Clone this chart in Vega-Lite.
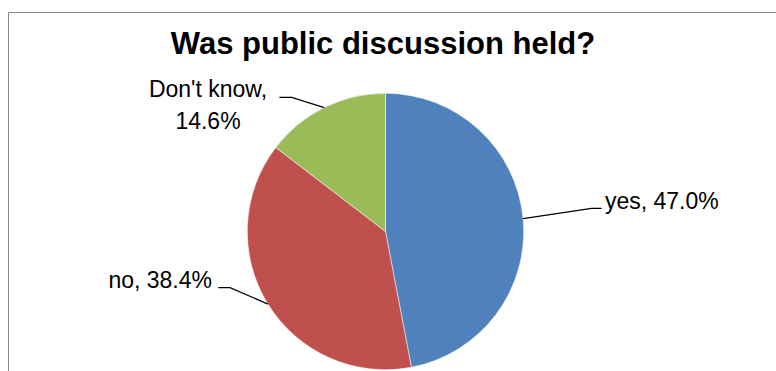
{
  "$schema": "https://vega.github.io/schema/vega-lite/v6.json",
  "width": 800,
  "height": 400,
  "autosize": {"type": "none"},
  "padding": {"left": 8, "top": 12, "right": 0, "bottom": 0},
  "background": "white",
  "config": {"view": {"stroke": "#868686", "strokeWidth": 1}, "font": "Liberation Sans"},
  "title": {"text": "Was public discussion held?", "font": "Liberation Sans", "fontSize": 31, "fontWeight": "bold", "color": "black", "anchor": "middle", "dx": -25, "baseline": "alphabetic", "offset": -73},
  "datasets": {
    "slices": [
      {"answer": "yes", "share": 47.0, "rank": 1},
      {"answer": "no", "share": 38.4, "rank": 2},
      {"answer": "Don't know", "share": 14.6, "rank": 3}
    ],
    "leaders": [
      {"answer": "yes", "pt": 0, "x": 0.9956, "y": 0.094},
      {"answer": "yes", "pt": 1, "x": 1.492, "y": 0.168},
      {"answer": "yes", "pt": 2, "x": 1.564, "y": 0.168},
      {"answer": "no", "pt": 0, "x": -0.851, "y": -0.525},
      {"answer": "no", "pt": 1, "x": -1.125, "y": -0.4067},
      {"answer": "no", "pt": 2, "x": -1.21, "y": -0.4067},
      {"answer": "Don't know", "pt": 0, "x": -0.443, "y": 0.896},
      {"answer": "Don't know", "pt": 1, "x": -0.679, "y": 0.971},
      {"answer": "Don't know", "pt": 2, "x": -0.768, "y": 0.971}
    ],
    "labels": [
      {"answer": "yes", "text": "yes, 47.0%", "x": 1.588, "y": 0.163},
      {"answer": "no", "text": "no, 38.4%", "x": -1.2554, "y": -0.4067},
      {"answer": "Don't know", "text": ["Don't know,", "14.6%"], "x": -1.2844, "y": 0.9754}
    ]
  },
  "layer": [
    {
      "data": {"name": "slices"},
      "mark": {"type": "arc", "outerRadius": 138.2, "stroke": "white", "strokeWidth": 0.5},
      "encoding": {
        "theta": {"field": "share", "type": "quantitative", "stack": true},
        "order": {"field": "rank", "type": "quantitative"},
        "color": {"field": "answer", "type": "nominal", "scale": {"domain": ["yes", "no", "Don't know"], "range": ["#4F81BD", "#C0504D", "#9BBB59"]}, "legend": null},
        "x": {"datum": 0, "type": "quantitative", "scale": {"domain": [-2.7316, 3.0572], "nice": false, "zero": false}, "axis": null},
        "y": {"datum": 0, "type": "quantitative", "scale": {"domain": [-1.3061, 1.5883], "nice": false, "zero": false}, "axis": null}
      }
    },
    {
      "data": {"name": "leaders"},
      "mark": {"type": "line", "color": "black", "strokeWidth": 1.25},
      "encoding": {
        "x": {"field": "x", "type": "quantitative"},
        "y": {"field": "y", "type": "quantitative"},
        "detail": {"field": "answer", "type": "nominal"},
        "order": {"field": "pt", "type": "quantitative"}
      }
    },
    {
      "data": {"name": "labels"},
      "mark": {"type": "text", "fontSize": 23, "color": "black", "baseline": "alphabetic", "lineHeight": 32.6,
        "align": {"expr": "datum.answer == 'yes' ? 'left' : datum.answer == 'no' ? 'right' : 'center'"}},
      "encoding": {
        "x": {"field": "x", "type": "quantitative"},
        "y": {"field": "y", "type": "quantitative"},
        "text": {"field": "text"}
      }
    }
  ]
}
